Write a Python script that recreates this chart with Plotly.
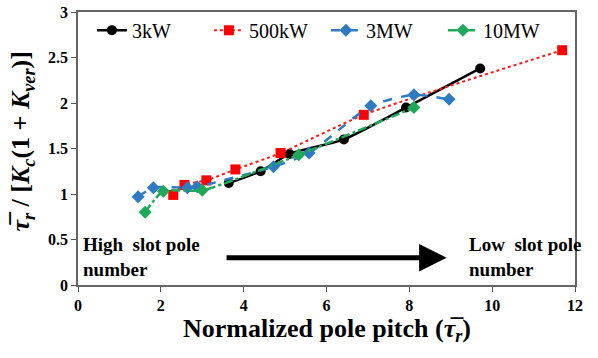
import plotly.graph_objects as go

# Data
x_3kw = [3.64, 4.41, 5.11, 6.42, 7.92, 9.71]
y_3kw = [1.12, 1.25, 1.44, 1.60, 1.95, 2.38]

x_500kw = [2.30, 2.57, 3.10, 3.80, 4.89, 6.90, 11.69]
y_500kw = [0.99, 1.10, 1.15, 1.27, 1.45, 1.87, 2.58]

x_3mw = [1.45, 1.82, 2.64, 2.88, 4.72, 5.58, 7.07, 8.11, 8.96]
y_3mw = [0.97, 1.07, 1.07, 1.08, 1.30, 1.45, 1.97, 2.09, 2.04]

x_10mw = [1.62, 2.06, 3.00, 5.33, 8.11]
y_10mw = [0.80, 1.03, 1.04, 1.43, 1.95]

series_names = ["3kW", "500kW", "3MW", "10MW"]
x_ticks = [0, 2, 4, 6, 8, 10, 12]
y_ticks = [0, 0.5, 1, 1.5, 2, 2.5, 3]
y_tick_labels = ["0", "0.5", "1", "1.5", "2", "2.5", "3"]

SERIF = "Liberation Serif"

fig = go.Figure()
fig.add_trace(go.Scatter(x=x_3kw, y=y_3kw, name=series_names[0], mode="lines+markers",
                         line=dict(color="black", width=2.5, shape="spline", smoothing=0.6),
                         marker=dict(symbol="circle", size=10, color="black")))
fig.add_trace(go.Scatter(x=x_500kw, y=y_500kw, name=series_names[1], mode="lines+markers",
                         line=dict(color="#ff1a1a", width=2, dash="dot", shape="spline", smoothing=0.6),
                         marker=dict(symbol="square", size=10, color="#ff0000")))
fig.add_trace(go.Scatter(x=x_3mw, y=y_3mw, name=series_names[2], mode="lines+markers",
                         line=dict(color="#2e7bc4", width=2.5, dash="dash", shape="spline", smoothing=0.6),
                         marker=dict(symbol="diamond", size=10, color="#2e7bc4")))
fig.add_trace(go.Scatter(x=x_10mw, y=y_10mw, name=series_names[3], mode="lines+markers",
                         line=dict(color="#1fa85a", width=2.5, dash="dashdot", shape="spline", smoothing=0.6),
                         marker=dict(symbol="diamond", size=10, color="#1fa85a")))

fig.add_annotation(x=8.9, y=0.30, ax=3.55, ay=0.30, xref="x", yref="y", axref="x", ayref="y",
                   text="", showarrow=True, arrowhead=2, arrowsize=1.1, arrowwidth=5, arrowcolor="black")
fig.add_annotation(x=0.08, y=0.31, xref="x", yref="y", xanchor="left", yanchor="middle", align="left",
                   text="<b>High  slot pole<br>number</b>", showarrow=False,
                   font=dict(family=SERIF, size=19, color="black"))
fig.add_annotation(x=9.4, y=0.31, xref="x", yref="y", xanchor="left", yanchor="middle", align="left",
                   text="<b>Low  slot pole<br>number</b>", showarrow=False,
                   font=dict(family=SERIF, size=19, color="black"))

# axis titles
fig.add_annotation(x=0.5, y=-0.165, xref="paper", yref="paper", xanchor="center", yanchor="middle",
                   text="<b>Normalized pole pitch (<i>τ̅<sub>r</sub></i>)</b>", showarrow=False,
                   font=dict(family=SERIF, size=26, color="black"))
fig.add_annotation(x=-0.113, y=0.525, xref="paper", yref="paper", xanchor="center", yanchor="middle",
                   textangle=-90,
                   text="<b><i>τ̅<sub>r</sub></i> / [<i>K<sub>c</sub></i>(1 + <i>K<sub>ver</sub></i>)]</b>",
                   showarrow=False, font=dict(family=SERIF, size=26, color="black"))

fig.update_layout(
    width=598, height=358,
    margin=dict(l=78, r=23, t=12, b=73, autoexpand=False),
    paper_bgcolor="white", plot_bgcolor="white",
    font=dict(family=SERIF, color="black"),
    showlegend=True,
    legend=dict(orientation="h", x=0.028, y=1.005, xanchor="left", yanchor="top",
                font=dict(family=SERIF, size=20, color="black"), bgcolor="rgba(0,0,0,0)",
                tracegroupgap=0, entrywidth=72, entrywidthmode="pixels"),
    xaxis=dict(range=[0, 12], tickvals=x_ticks, ticks="outside", ticklen=5, tickcolor="#555",
               showgrid=False, zeroline=False, showline=True, linecolor="#666", linewidth=1.5, mirror=True,
               automargin=False, ticklabeloverflow="allow",
               tickfont=dict(family=SERIF, size=16, color="black", weight="bold")),
    yaxis=dict(range=[0, 3], tickvals=y_ticks, ticktext=y_tick_labels, ticks="outside", ticklen=5,
               tickcolor="#555", showgrid=False, zeroline=False, showline=True, linecolor="#666",
               linewidth=1.5, mirror=True, automargin=False, ticklabeloverflow="allow",
               tickfont=dict(family=SERIF, size=16, color="black", weight="bold")),
)

fig.write_html("out.html", config={"displayModeBar": False},
               post_script="document.body.style.margin='0px';document.body.style.overflow='hidden';")
